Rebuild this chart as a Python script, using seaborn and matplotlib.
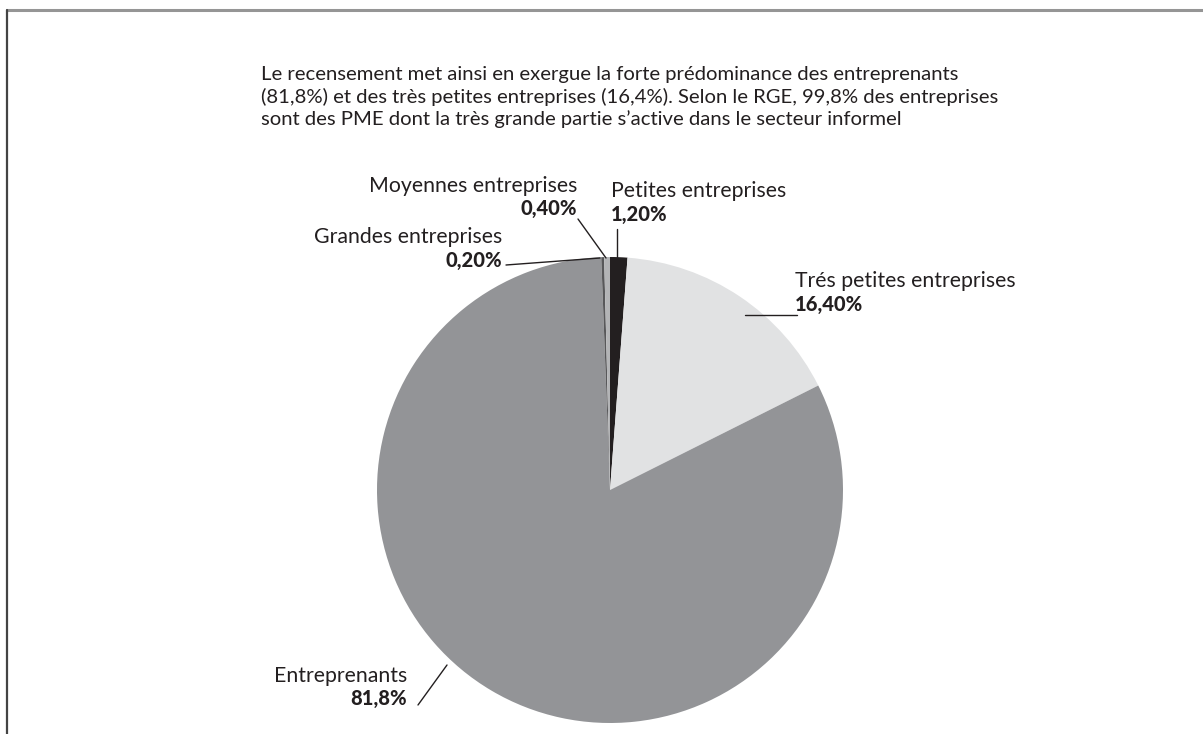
import matplotlib
matplotlib.use("Agg")
import matplotlib.pyplot as plt
from matplotlib.lines import Line2D
import seaborn as sns

# data (clockwise from 12 o'clock)
categories = ["Petites entreprises", "Trés petites entreprises", "Entreprenants",
              "Grandes entreprises", "Moyennes entreprises"]
shares = [1.2, 16.4, 81.8, 0.2, 0.4]
value_labels = ["1,20%", "16,40%", "81,8%", "0,20%", "0,40%"]
colors = ["#231f20", "#e1e2e3", "#939497", "#58585a", "#b3b4b6"]

title = ("Le recensement met ainsi en exergue la forte prédominance des entreprenants\n"
         "(81,8%) et des très petites entreprises (16,4%). Selon le RGE, 99,8% des entreprises\n"
         "sont des PME dont la très grande partie s\u2019active dans le secteur informel")

sns.set_style("white")
plt.rcParams["font.family"] = ["Lato", "DejaVu Sans"]

W, H = 1203, 734
fig = plt.figure(figsize=(W / 100, H / 100), dpi=100)

def fx(x):
    return x / W

def fy(y):
    return 1 - y / H

# pie axes: center (610, 490), radius 233 px
cx, cy, r = 610, 490, 233
ax = fig.add_axes([fx(cx - r), fy(cy + r), 2 * r / W, 2 * r / H])
ax.pie(shares, colors=colors, startangle=90, counterclock=False,
       wedgeprops=dict(linewidth=0))
ax.set_xlim(-1, 1)
ax.set_ylim(-1, 1)
ax.set_aspect("equal")
ax.axis("off")

# frame
fig.add_artist(Line2D([fx(7), 1], [fy(10), fy(10)], color="#959595", lw=2.2))
fig.add_artist(Line2D([fx(7), fx(7)], [fy(10), 0], color="#444444", lw=1.6))

fig.text(fx(261), fy(66), title, ha="left", va="top", fontsize=14.6,
         color="#231f20", linespacing=1.3)

txt = "#231f20"
# label positions (name anchor, value below)
labels = [
    (0, 611, 191, "left"),
    (1, 795, 281, "left"),
    (2, 407, 676, "right"),
    (3, 502, 237, "right"),
    (4, 577, 186, "right"),
]
for i, x, y, ha in labels:
    fig.text(fx(x), fy(y), categories[i], ha=ha, va="center", fontsize=15.3, color=txt)
    fig.text(fx(x), fy(y + 23), value_labels[i], ha=ha, va="center", fontsize=14.5,
             fontweight="black", color=txt)

leaders = [
    ((617, 229), (617, 258)),
    ((797, 315), (745, 315)),
    ((418, 705), (447, 665)),
    ((506, 265), (600, 258)),
    ((578, 219), (606, 258)),
]
for (x0, y0), (x1, y1) in leaders:
    fig.add_artist(Line2D([fx(x0), fx(x1)], [fy(y0), fy(y1)], color=txt, lw=1))

fig.savefig("out.png", dpi=100)
